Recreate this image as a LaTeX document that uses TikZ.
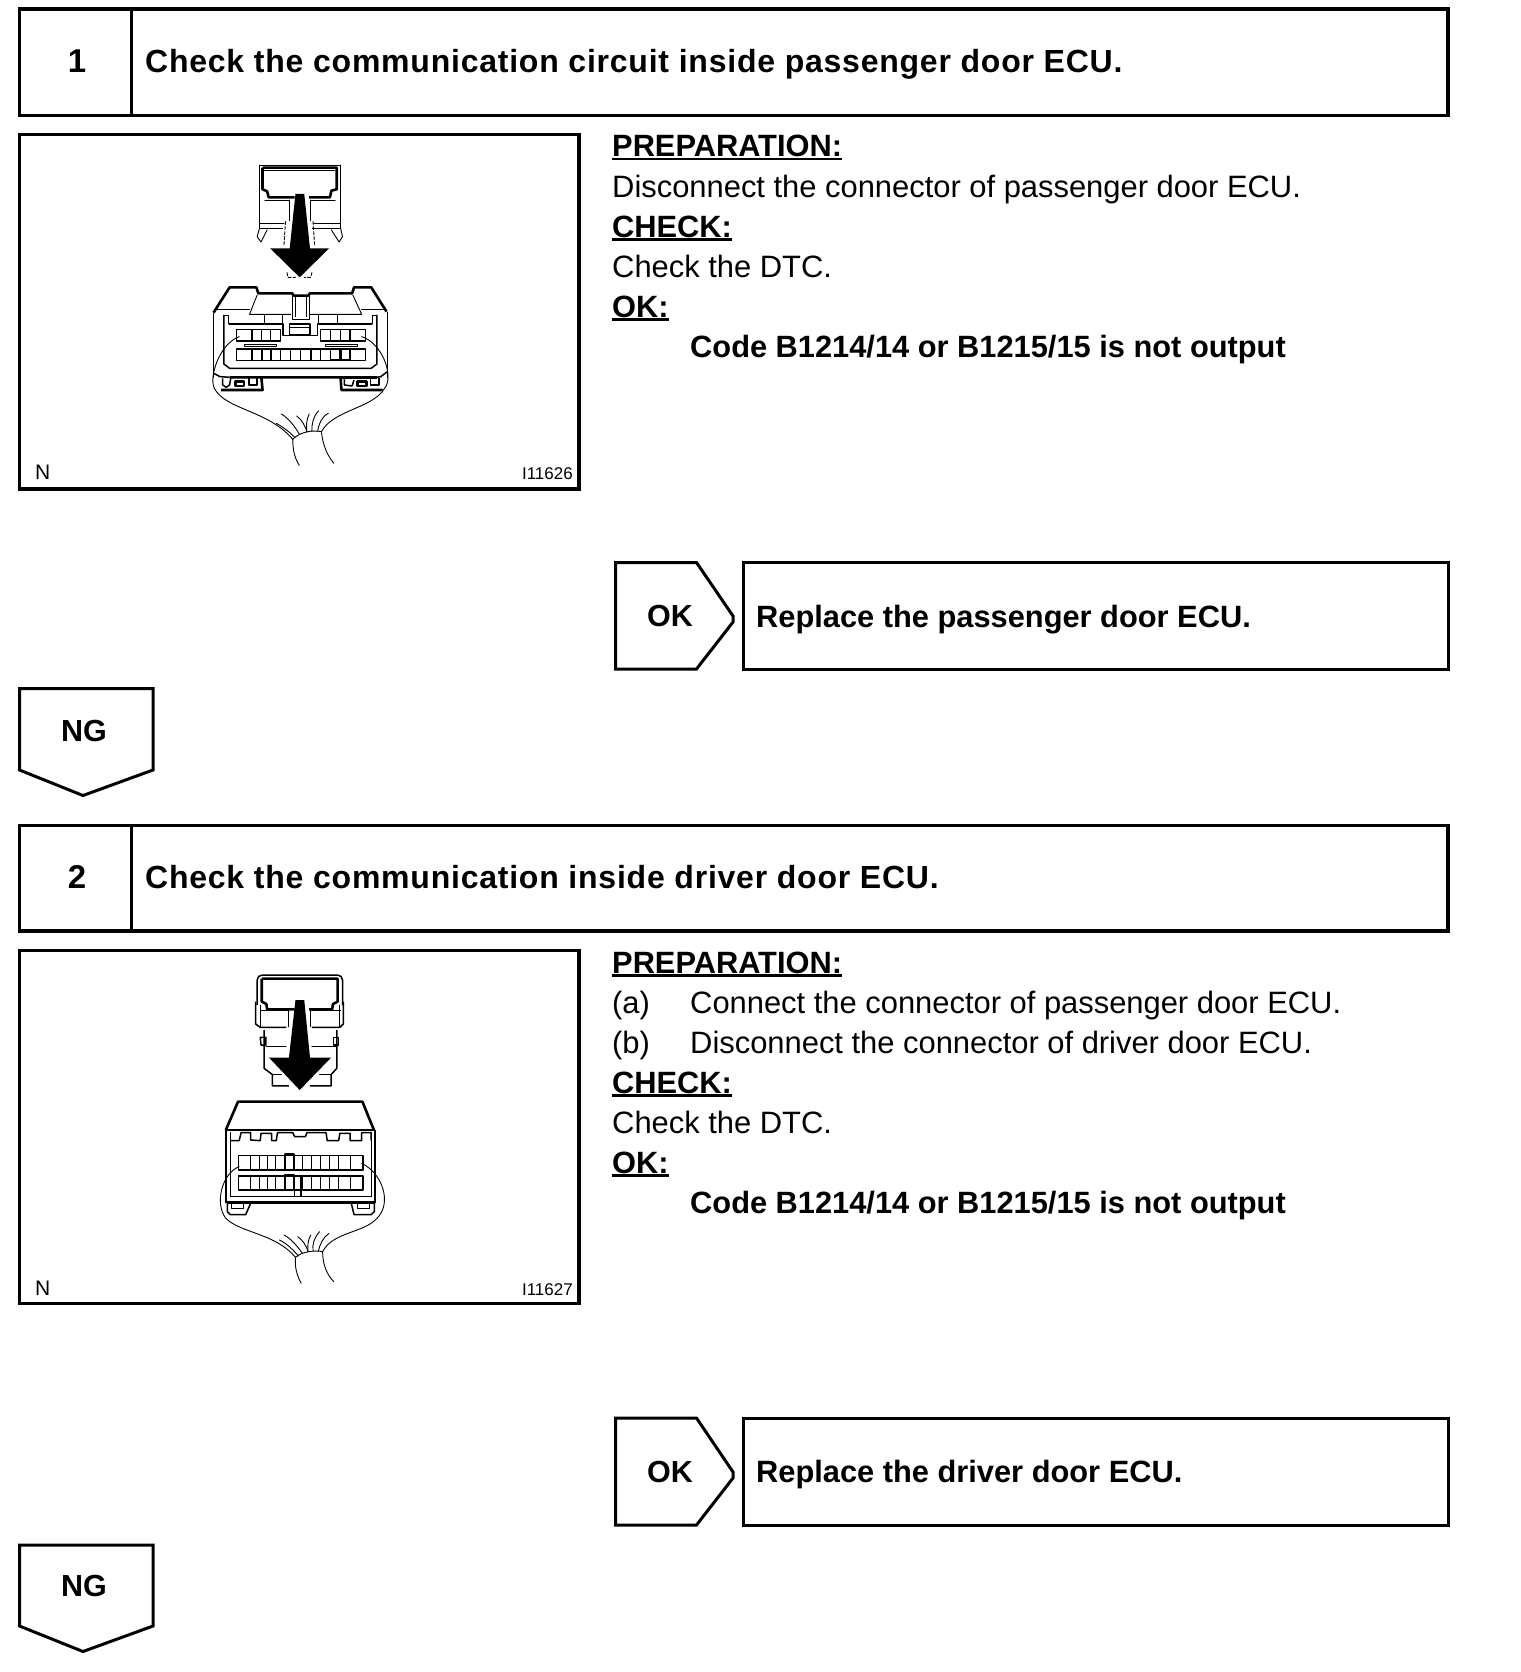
\documentclass[tikz,border=0pt]{standalone}
\usepackage{fontspec}
\setmainfont{Liberation Sans}
\newcommand\ulbold[1]{\setbox0\hbox{#1}\rlap{\rule[-3.5pt]{\wd0}{2.6pt}}\box0}
\tikzset{
 framebox/.style={line width=3.4pt,line join=miter},
 thinline/.style={line width=2.3pt},
 hair/.style={line width=0.9pt,line cap=round,line join=round},
 med/.style={line width=1.5pt,line join=round},
 heavy/.style={line width=2.6pt,line join=round},
 titletext/.style={anchor=base west,inner sep=0pt,font=\fontsize{32}{38}\selectfont\bfseries\addfontfeature{LetterSpace=2.4}},
 bodytext/.style={anchor=base west,inner sep=0pt,font=\fontsize{30.9}{38}\selectfont},
 boldtext/.style={anchor=base west,inner sep=0pt,font=\fontsize{30.8}{38}\selectfont\bfseries},
 numtext/.style={anchor=base,inner sep=0pt,font=\fontsize{33}{38}\selectfont\bfseries},
 tagtext/.style={anchor=base,inner sep=0pt,font=\fontsize{30.5}{38}\selectfont\bfseries},
 ntext/.style={anchor=base west,inner sep=0pt,font=\fontsize{21}{22}\selectfont},
 idtext/.style={anchor=base east,inner sep=0pt,font=\fontsize{17}{18}\selectfont},
 zoomone/.style={shift={(0,120)},x=0.3827pt,y=-0.3333pt},
 zoomtwo/.style={shift={(0,950)},x=0.3827pt,y=-0.3333pt},
}
\begin{document}
\begin{tikzpicture}[x=1pt,y=-1pt]
\useasboundingbox (0,0) rectangle (1520,1672);
% ---- section 1
\draw[framebox] (19.5,9) rectangle (1448,115.5);
\draw[thinline] (131.5,9) -- (131.5,115.5);
\node[numtext] (n1) at (77,73) {1};
\node[titletext] (t1) at (145,73) {Check the communication circuit inside passenger door ECU.};
\draw[framebox] (19.5,134.5) rectangle (579,489);
\node[boldtext] (p1) at (612,157) {\ulbold{PREPARATION:}};
\node[bodytext] (p2) at (612,197) {Disconnect the connector of passenger door ECU.};
\node[boldtext] (p3) at (612,237) {\ulbold{CHECK:}};
\node[bodytext] (p4) at (612,277) {Check the DTC.};
\node[boldtext] (p5) at (612,317) {\ulbold{OK:}};
\node[boldtext] (p6) at (690,357) {Code B1214/14 or B1215/15 is not output};
\node[ntext] (l1) at (35,479) {N};
\node[idtext] (i1) at (573,479) {I11626};
\draw[framebox,line width=3pt] (615.5,562.5) -- (696.5,562.5) -- (733,616) -- (733,622) -- (696.5,669) -- (615.5,669) -- cycle;
\node[tagtext] (ok1) at (670,626) {OK};
\draw[framebox,line width=3pt] (743,562.5) rectangle (1448,669);
\node[boldtext] (r1) at (756,627) {Replace the passenger door ECU.};
\draw[framebox,line width=3pt] (19.5,688.5) -- (153,688.5) -- (153,770) -- (83,795.5) -- (19.5,770) -- cycle;
\node[tagtext] (ng1) at (84,741) {NG};
% ---- section 2
\draw[framebox] (19.5,825.5) rectangle (1448,931);
\draw[thinline] (131.5,825.5) -- (131.5,931);
\node[numtext] (n2) at (77,888) {2};
\node[titletext] (t2) at (145,888) {Check the communication inside driver door ECU.};
\draw[framebox] (19.5,950.5) rectangle (579,1303.5);
\node[boldtext] (q1) at (612,973) {\ulbold{PREPARATION:}};
\node[bodytext] (q2) at (612,1013) {(a)};
\node[bodytext] (q2b) at (690,1013) {Connect the connector of passenger door ECU.};
\node[bodytext] (q3) at (612,1053) {(b)};
\node[bodytext] (q3b) at (690,1053) {Disconnect the connector of driver door ECU.};
\node[boldtext] (q4) at (612,1093) {\ulbold{CHECK:}};
\node[bodytext] (q5) at (612,1133) {Check the DTC.};
\node[boldtext] (q6) at (612,1173) {\ulbold{OK:}};
\node[boldtext] (q7) at (690,1213) {Code B1214/14 or B1215/15 is not output};
\node[ntext] (l2) at (35,1295) {N};
\node[idtext] (i2) at (573,1295) {I11627};
\draw[framebox,line width=3pt] (615.5,1418) -- (696.5,1418) -- (733,1472) -- (733,1478) -- (696.5,1525) -- (615.5,1525) -- cycle;
\node[tagtext] (ok2) at (670,1482) {OK};
\draw[framebox,line width=3pt] (743,1418) rectangle (1448,1525);
\node[boldtext] (r2) at (756,1482) {Replace the driver door ECU.};
\draw[framebox,line width=3pt] (19.5,1545) -- (153,1545) -- (153,1626) -- (83,1651.5) -- (19.5,1626) -- cycle;
\node[tagtext] (ng2) at (84,1596) {NG};
% ---- illustration 1
\begin{scope}[zoomone]
 % plug
 \draw[hair] (678,135) -- (890,135);
 \draw[hair] (678,135) -- (678,325) (890,135) -- (890,325);
 \draw[heavy] (686,143) -- (880,143) -- (880,208) -- (866,212) -- (862,232) -- (808,232);
 \draw[heavy] (686,143) -- (686,208) -- (698,214) -- (702,232) -- (770,232);
 \draw[hair] (690,150) -- (874,150) (692,240) -- (756,240) (812,240) -- (876,240);
 \draw[hair] (756,240) -- (756,302) (812,240) -- (812,302);
 \draw[hair] (678,310) -- (742,310) (820,310) -- (890,310);
 \draw[med] (678,325) -- (740,325) (815,325) -- (890,325);
 \draw[hair] (678,325) -- (672,350) -- (682,366) -- (698,330);
 \draw[hair] (890,325) -- (895,350) -- (886,366) -- (866,330);
 \draw[hair,densely dashed] (746,305) -- (742,375) (818,305) -- (822,375);
 % tiny marks under arrow
 \draw[hair,densely dashed] (750,458) -- (752,472) -- (772,472) (815,458) -- (812,472) -- (795,472);
 % lower connector
 \draw[heavy] (558,578) -- (600,502) -- (670,502) -- (675,520) -- (763,520) -- (768,527) -- (805,527) -- (810,520) -- (920,520) -- (925,502) -- (970,502) -- (1010,575);
 \draw[med] (558,578) -- (558,775) (1012,575) -- (1012,775);
 \draw[hair] (672,525) -- (652,583) -- (760,583) (922,525) -- (945,583) -- (808,583);
 \draw[hair] (565,568) -- (652,568) (945,568) -- (1008,568);
 \draw[hair] (763,527) -- (763,598) -- (808,598) -- (808,527) (771,530) -- (771,590) (802,530) -- (802,590);
 \draw[hair] (692,585) -- (692,610) (738,585) -- (738,610) (832,585) -- (832,610) (882,585) -- (882,610);
 \draw[hair] (585,585) -- (598,585) -- (598,612) (972,612) -- (972,585) -- (985,585);
 \draw[med] (598,612) -- (740,612) -- (740,647) -- (830,647) -- (830,612) -- (972,612);
 \draw[med] (757,612) rectangle (810,645) (757,622) -- (810,622);
 \draw[med] (585,585) -- (585,732) -- (600,745) -- (970,745) -- (985,732) -- (985,585);
 \draw[med] (618,628) rectangle (733,663);
 \foreach \u in {658,683,707} \draw[med] (\u,628) -- (\u,663);
 \draw[med] (838,628) rectangle (955,663);
 \foreach \u in {864,890,915} \draw[med] (\u,628) -- (\u,663);
 \draw[hair] (638,672) rectangle (722,680) (850,672) rectangle (935,680);
 \draw[med] (618,687) rectangle (955,722);
 \foreach \u in {658,684,708,733,759,785,812,838,864,890,915} \draw[med] (\u,687) -- (\u,722);
 \draw[heavy] (864,720) -- (915,720) (889,687) -- (889,720) (915,687) -- (915,720);
 \draw[heavy] (600,772) -- (683,772) -- (686,810) -- (578,810);
 \draw[heavy] (683,772) -- (890,772) -- (892,810) -- (1000,810);
 \draw[heavy] (890,772) -- (985,772);
 \draw[med] (558,760) -- (575,770) -- (600,772) (1012,755) -- (995,770) -- (985,772);
 \draw[med] (582,775) -- (582,795) -- (591,802) -- (600,795) -- (603,775);
 \draw[heavy] (616,784) rectangle (638,798);
 \draw[med] (650,775) -- (650,795) -- (672,795) -- (672,775);
 \draw[med] (900,775) -- (900,795) -- (920,798) -- (925,780);
 \draw[heavy] (934,784) rectangle (958,798);
 \draw[med] (968,775) -- (968,795) -- (990,795) -- (990,775);
 % harness
 \draw[hair] (625,650) .. controls (575,670) and (545,770) .. (560,805) .. controls (590,870) and (700,870) .. (765,958);
 \draw[hair] (945,650) .. controls (1000,670) and (1030,770) .. (1005,805) .. controls (975,865) and (870,870) .. (840,935);
 \draw[hair] (765,958) .. controls (785,935) and (815,930) .. (840,935);
 \draw[hair] (765,958) .. controls (765,990) and (770,1015) .. (782,1036);
 \draw[hair] (840,938) .. controls (845,980) and (855,1005) .. (872,1030);
 \draw[hair] (735,882) .. controls (755,895) and (770,920) .. (782,942);
 \draw[hair] (722,910) .. controls (745,925) and (760,940) .. (770,952);
 \draw[hair] (775,888) .. controls (790,900) and (798,920) .. (802,936);
 \draw[hair] (808,882) .. controls (800,900) and (800,920) .. (802,936);
 \draw[hair] (832,873) .. controls (818,890) and (814,915) .. (815,934);
 \draw[hair] (858,880) .. controls (840,890) and (832,915) .. (830,934);
 % arrow
 \fill[black] (772,222) -- (795,222) -- (810,385) -- (860,385) -- (783,472) -- (706,385) -- (757,385) -- cycle;
\end{scope}
% ---- illustration 2
\begin{scope}[zoomtwo]
 % plug
 \draw[med,rounded corners=5pt] (672,165) -- (672,75) -- (895,75) -- (895,165);
 \draw[heavy] (684,86) -- (882,86) -- (882,155) -- (870,162) -- (868,178) -- (808,178);
 \draw[heavy] (684,86) -- (684,155) -- (696,162) -- (698,178) -- (770,178);
 \draw[med] (668,155) -- (668,222) -- (680,232) -- (748,232);
 \draw[med] (897,155) -- (897,222) -- (888,232) -- (815,232);
 \draw[hair] (680,182) -- (755,182) -- (755,230) (890,182) -- (812,182) -- (812,230);
 \draw[hair] (680,165) -- (680,232) (888,165) -- (888,232);
 \draw[med] (680,262) -- (695,262) -- (695,285) -- (682,285) -- cycle;
 \draw[med] (885,262) -- (872,262) -- (872,285) -- (885,285) -- cycle;
 \draw[med] (690,240) -- (690,355) -- (712,374) -- (712,408) -- (755,408);
 \draw[med] (880,240) -- (880,355) -- (865,374) -- (865,408) -- (810,408);
 \draw[hair] (695,290) -- (748,290) (815,290) -- (880,290) (712,374) -- (735,374) (835,374) -- (865,374);
 % lower connector
 \draw[heavy] (590,540) -- (622,455) -- (947,455) -- (977,540);
 \draw[med] (590,540) -- (980,540);
 \draw[med] (590,540) -- (590,758) (980,540) -- (980,758);
 \draw[hair] (603,548) -- (603,740) (970,548) -- (970,740);
 \draw[med] (603,572) -- (625,572) -- (630,548) -- (655,548) -- (655,570) -- (680,572) -- (682,550) -- (710,550) -- (710,572) -- (722,572) -- (725,548) -- (765,548) -- (770,560) -- (798,560) -- (802,548) -- (852,548) -- (855,572) -- (885,572) -- (888,550) -- (915,550) -- (915,572) -- (945,572) -- (945,548) -- (970,548) -- (970,572);
 \draw[med] (623,617) rectangle (948,660);
 \foreach \u in {655,677,699,721,745,768,790,813,837,860,885,915} \draw[hair] (\u,617) -- (\u,660);
 \draw[heavy] (745,613) rectangle (768,660);
 \draw[med] (623,678) rectangle (948,720);
 \foreach \u in {655,677,699,721,745,768,790,813,837,860,885,915} \draw[hair] (\u,678) -- (\u,720);
 \draw[heavy] (745,675) rectangle (768,720);
 \draw[heavy] (786,680) -- (786,738);
 \draw[hair] (770,720) -- (770,740);
 \draw[med] (603,740) -- (970,740);
 \draw[heavy] (592,758) -- (978,758);
 \draw[med] (594,758) -- (594,785) -- (602,794) -- (642,794) -- (655,760);
 \draw[hair] (606,762) -- (606,776) -- (635,776) -- (635,762);
 \draw[med] (918,760) -- (925,794) -- (970,794) -- (978,785) -- (978,758);
 \draw[hair] (935,762) -- (935,776) -- (965,776) -- (965,762);
 % harness
 \draw[hair] (625,650) .. controls (580,670) and (560,760) .. (590,805) .. controls (630,850) and (720,850) .. (772,922);
 \draw[hair] (945,640) .. controls (1000,670) and (1025,760) .. (985,805) .. controls (950,850) and (870,845) .. (843,905);
 \draw[hair] (772,922) .. controls (790,905) and (820,900) .. (843,905);
 \draw[hair] (772,922) .. controls (770,950) and (775,975) .. (787,1000);
 \draw[hair] (843,905) .. controls (843,945) and (855,975) .. (872,995);
 \draw[hair] (742,855) .. controls (760,865) and (778,890) .. (790,910);
 \draw[hair] (730,870) .. controls (750,880) and (770,905) .. (780,918);
 \draw[hair] (778,860) .. controls (790,870) and (800,885) .. (805,905);
 \draw[hair] (812,855) .. controls (805,870) and (803,885) .. (805,905);
 \draw[hair] (835,845) .. controls (822,860) and (815,885) .. (818,903);
 \draw[hair] (860,850) .. controls (845,860) and (835,885) .. (832,903);
 % arrow
 \fill[black] (772,150) -- (795,150) -- (810,323) -- (865,323) -- (783,420) -- (703,323) -- (755,323) -- cycle;
\end{scope}
\end{tikzpicture}
\end{document}
